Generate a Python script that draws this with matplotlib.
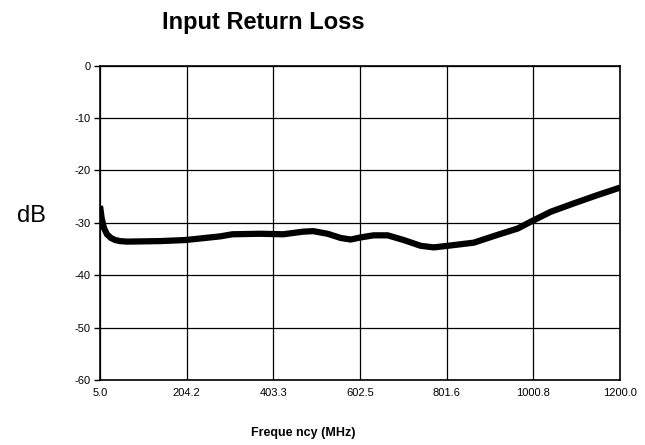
import matplotlib
matplotlib.use('Agg')
import matplotlib.pyplot as plt

plt.rcParams['font.family'] = ['Liberation Sans', 'DejaVu Sans']

# frequency (MHz) and return loss (dB)
freq = [5, 9, 14, 21, 30, 40, 51, 67, 143, 201, 281, 309, 373, 426, 472, 495,
        528, 558, 581, 604, 634, 666, 703, 742, 772, 804, 864, 919, 965, 995,
        1041, 1094, 1149, 1200]
loss = [-26.8, -29.2, -31.0, -32.2, -32.9, -33.3, -33.5, -33.6, -33.5, -33.3,
        -32.6, -32.2, -32.1, -32.2, -31.7, -31.6, -32.1, -32.9, -33.2, -32.8,
        -32.4, -32.4, -33.3, -34.4, -34.7, -34.4, -33.8, -32.3, -31.1, -29.8,
        -27.9, -26.3, -24.7, -23.3]

xticks = [5.0, 204.2, 403.3, 602.5, 801.6, 1000.8, 1200.0]
xlabels = ['5.0', '204.2', '403.3', '602.5', '801.6', '1000.8', '1200.0']
yticks = [0, -10, -20, -30, -40, -50, -60]

fig = plt.figure(figsize=(6.45, 4.45), dpi=100)
ax = fig.add_axes([100/645, 1-380/445, 520/645, (380-65.5)/445])

ax.plot(freq, loss, color='black', lw=4.5, solid_capstyle='butt')

ax.set_xlim(5, 1200)
ax.set_ylim(-60, 0)
ax.set_xticks(xticks)
ax.set_xticklabels(xlabels, fontsize=8)
ax.set_yticks(yticks)
ax.set_yticklabels([str(v) for v in yticks], fontsize=8)
ax.tick_params(axis='x', length=0, pad=6)
ax.tick_params(axis='y', length=4, width=1, pad=3)
ax.grid(True, color='black', lw=0.9)
for s in ax.spines.values():
    s.set_linewidth(1.2)

fig.text(263/645, 1-22/445, 'Input Return Loss', fontsize=17, fontweight='bold',
         ha='center', va='center')
fig.text(31/645, 1-216/445, 'dB', fontsize=17, ha='center', va='center')
fig.text(303/645, 1-433/445, 'Freque ncy (MHz)', fontsize=9, fontweight='bold',
         ha='center', va='center')

fig.savefig('out.png', dpi=100)
